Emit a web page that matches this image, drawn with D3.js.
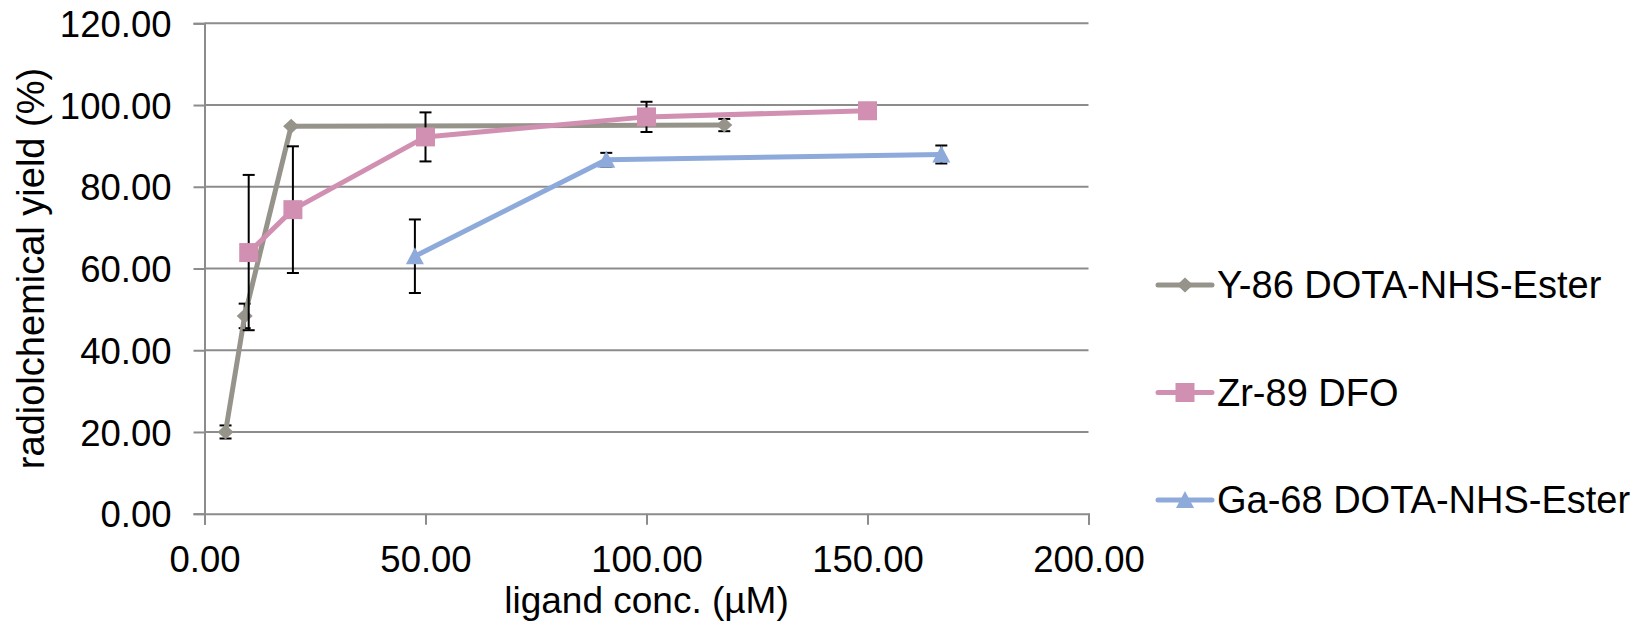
<!DOCTYPE html>
<html>
<head>
<meta charset="utf-8">
<script src="https://cdn.jsdelivr.net/npm/d3@7"></script>
<style>
  html, body { margin: 0; padding: 0; background: #fff; }
  svg { display: block; font-family: "Liberation Sans", Arial, sans-serif; }
</style>
</head>
<body>
<svg id="chart" width="1638" height="630"></svg>
<script>
// ---- data ----
const seriesNames = ["Y-86 DOTA-NHS-Ester", "Zr-89 DFO", "Ga-68 DOTA-NHS-Ester"];

const y86X   = [4.76, 9.09, 19.6, 117.6];
const y86Y   = [20.0, 48.4, 94.8, 95.1];
const y86Err = [1.6, 3.0, 0, 1.5];

const zrX   = [10, 20, 50, 100, 150];
const zrY   = [63.9, 74.4, 92.2, 97.1, 98.6];
const zrErr = [19.0, 15.5, 6.0, 3.7, 0];

const gaX   = [47.6, 90.9, 166.7];
const gaY   = [63.0, 86.6, 87.9];
const gaErr = [9.0, 1.7, 2.2];

const xTicks = [0, 50, 100, 150, 200];
const yTicks = [0, 20, 40, 60, 80, 100, 120];

const xTitle = "ligand conc. (µM)";
const yTitle = "radiolchemical yield (%)";

// ---- layout ----
const svg = d3.select("#chart");
const L = 204.5, R = 1088.5, T = 23.3, B = 513.7;
const x = d3.scaleLinear().domain([0, 200]).range([L, R]);
const y = d3.scaleLinear().domain([0, 120]).range([B, T]);
const gridColor = "#8c8c8c";
const fs = 36.5;

const series = [
  { name: seriesNames[0], xs: y86X, ys: y86Y, es: y86Err, color: "#96938b", shape: "diamond" },
  { name: seriesNames[1], xs: zrX, ys: zrY, es: zrErr, color: "#d190b1", shape: "square" },
  { name: seriesNames[2], xs: gaX, ys: gaY, es: gaErr, color: "#8eaadb", shape: "triangle" }
];

// gridlines
svg.append("g").selectAll("line").data(yTicks.filter(d => d > 0)).join("line")
  .attr("x1", L).attr("x2", R)
  .attr("y1", d => y(d)).attr("y2", d => y(d))
  .attr("stroke", gridColor).attr("stroke-width", 2);

// y axis
const yAxis = d3.axisLeft(y).tickValues(yTicks).tickSize(11).tickPadding(22)
  .tickFormat(d3.format(".2f"));
const gy = svg.append("g").attr("transform", `translate(${L},0)`).call(yAxis);
gy.select(".domain").attr("stroke", gridColor).attr("stroke-width", 2);
gy.selectAll(".tick line").attr("stroke", gridColor).attr("stroke-width", 2);
gy.selectAll(".tick text").attr("font-size", fs).attr("fill", "#000")
  .attr("font-family", "Liberation Sans, Arial, sans-serif").attr("dy", "0.36em");

// x axis
const xAxis = d3.axisBottom(x).tickValues(xTicks).tickSize(11).tickPadding(21)
  .tickFormat(d3.format(".2f"));
const gx = svg.append("g").attr("transform", `translate(0,${B})`).call(xAxis);
gx.select(".domain").attr("stroke", gridColor).attr("stroke-width", 2);
gx.selectAll(".tick line").attr("stroke", gridColor).attr("stroke-width", 2);
gx.selectAll(".tick text").attr("font-size", fs).attr("fill", "#000")
  .attr("font-family", "Liberation Sans, Arial, sans-serif").attr("dy", "0.71em");

// axis titles
svg.append("text").attr("x", (L + R) / 2).attr("y", 613.3)
  .attr("text-anchor", "middle").attr("font-size", 37).text(xTitle);
svg.append("text")
  .attr("transform", `translate(44,${(T + B) / 2}) rotate(-90)`)
  .attr("text-anchor", "middle").attr("font-size", 38).text(yTitle);

// marker path generator
function markerPath(shape) {
  if (shape === "diamond") return "M0,-7.5L8,0L0,7.5L-8,0Z";
  if (shape === "square") return "M-9.5,-9.5H9.5V9.5H-9.5Z";
  return "M0,-9L9,8H-9Z";
}

const line = d3.line().x(d => x(d.x)).y(d => y(d.y));
const capW = 6;

series.forEach(s => {
  const pts = s.xs.map((v, i) => ({ x: v, y: s.ys[i], e: s.es[i] }));
  const g = svg.append("g");
  // error bars
  const eb = g.append("g").selectAll("g").data(pts.filter(p => p.e > 0)).join("g");
  eb.append("line").attr("x1", d => x(d.x)).attr("x2", d => x(d.x))
    .attr("y1", d => y(d.y + d.e)).attr("y2", d => y(d.y - d.e))
    .attr("stroke", "#000").attr("stroke-width", 2);
  eb.append("line").attr("x1", d => x(d.x) - capW).attr("x2", d => x(d.x) + capW)
    .attr("y1", d => y(d.y + d.e)).attr("y2", d => y(d.y + d.e))
    .attr("stroke", "#000").attr("stroke-width", 2);
  eb.append("line").attr("x1", d => x(d.x) - capW).attr("x2", d => x(d.x) + capW)
    .attr("y1", d => y(d.y - d.e)).attr("y2", d => y(d.y - d.e))
    .attr("stroke", "#000").attr("stroke-width", 2);
  // line
  g.append("path").attr("d", line(pts)).attr("fill", "none")
    .attr("stroke", s.color).attr("stroke-width", 5)
    .attr("stroke-linejoin", "round").attr("stroke-linecap", "round");
  // markers
  g.append("g").selectAll("path").data(pts).join("path")
    .attr("transform", d => `translate(${x(d.x)},${y(d.y)})`)
    .attr("d", markerPath(s.shape)).attr("fill", s.color);
});

// legend
const legendY = [285, 392.5, 500];
const lg = svg.append("g");
series.forEach((s, i) => {
  const gy2 = legendY[i];
  lg.append("line").attr("x1", 1158).attr("x2", 1212).attr("y1", gy2).attr("y2", gy2)
    .attr("stroke", s.color).attr("stroke-width", 5).attr("stroke-linecap", "round");
  lg.append("path").attr("transform", `translate(1185,${gy2})`)
    .attr("d", markerPath(s.shape)).attr("fill", s.color);
  lg.append("text").attr("x", 1217).attr("y", gy2 + 13)
    .attr("font-size", 38).attr("fill", "#000").text(s.name);
});
</script>
</body>
</html>
